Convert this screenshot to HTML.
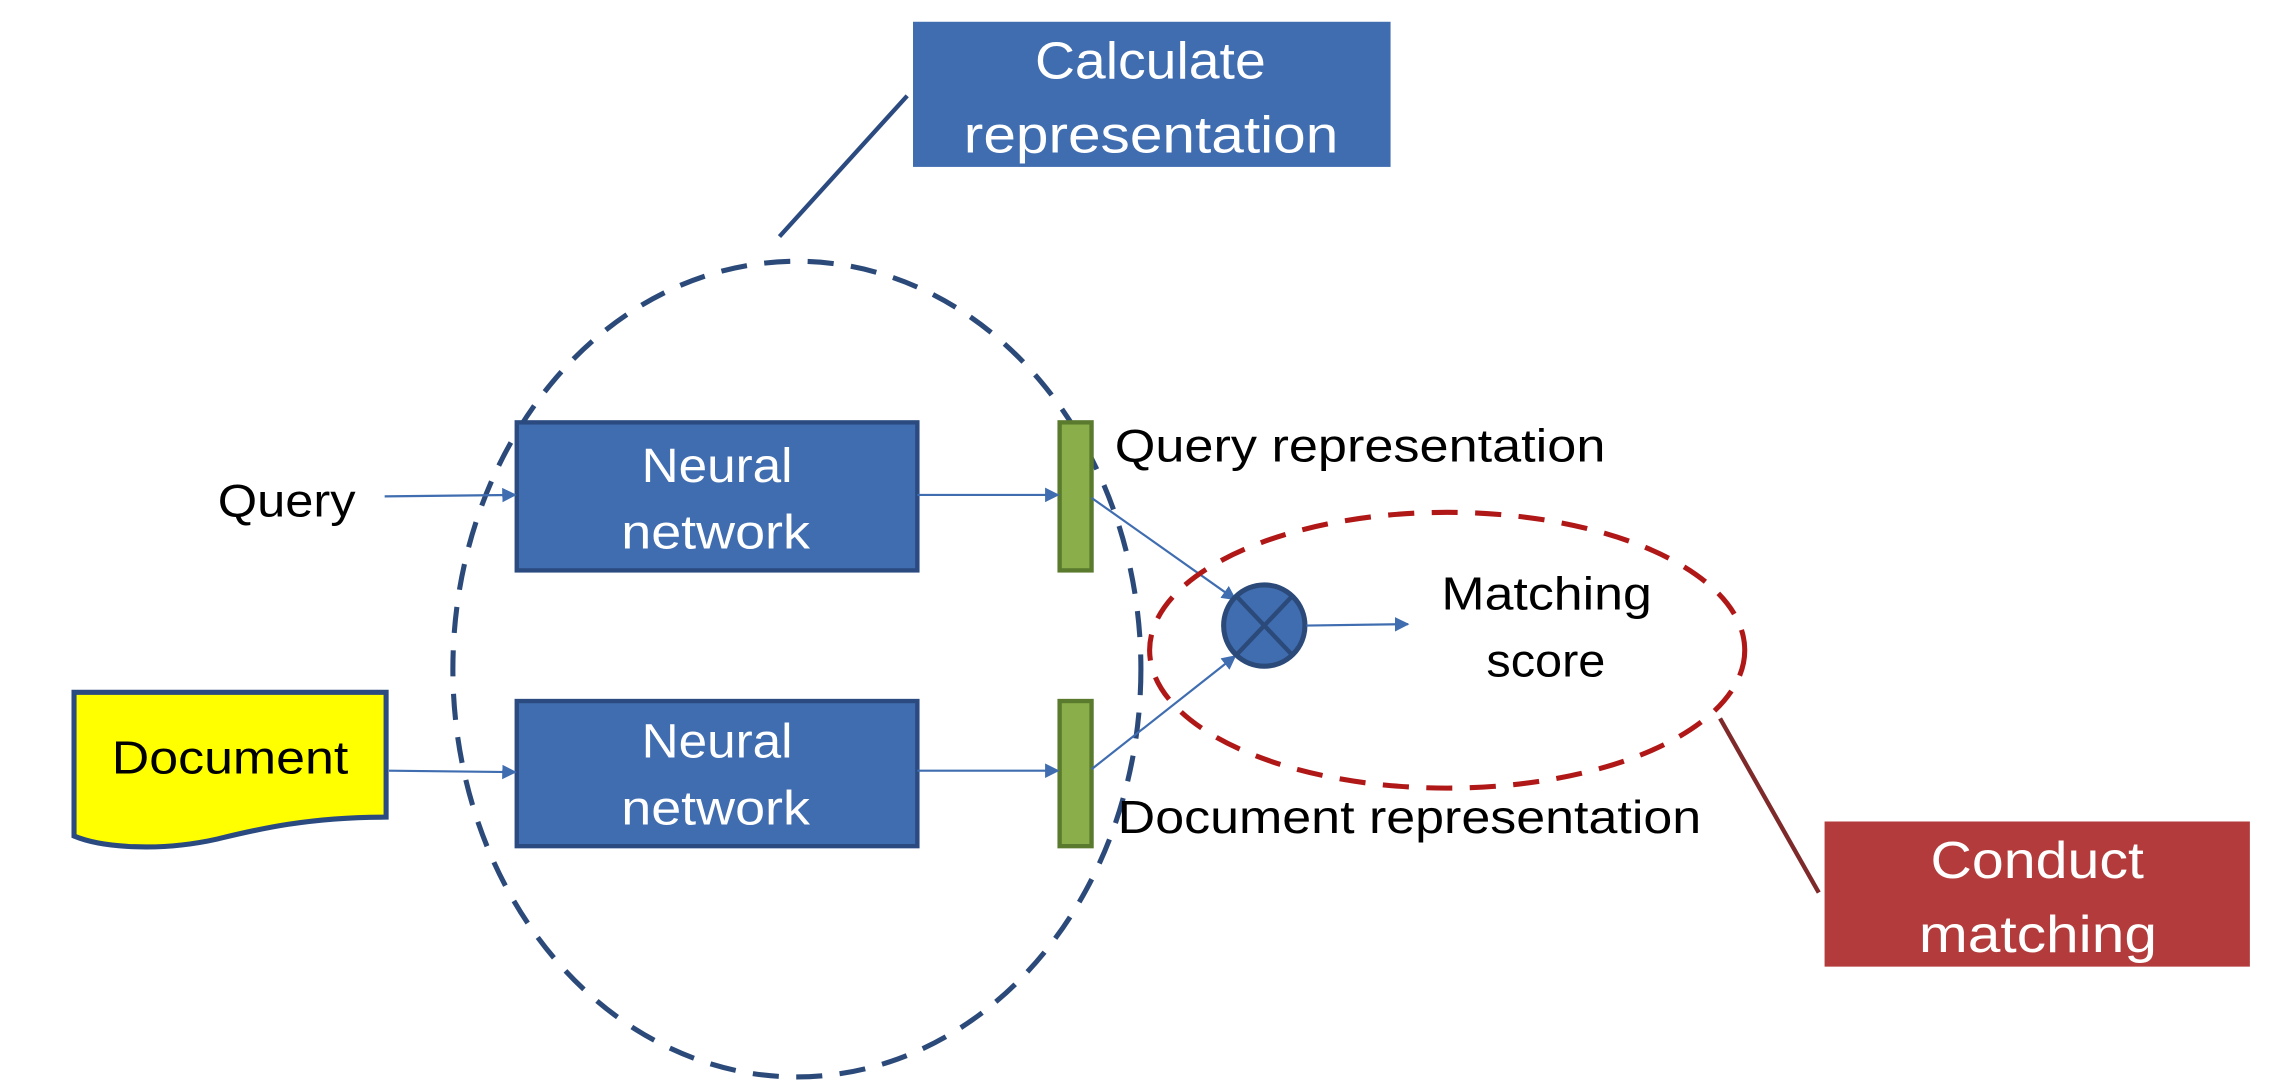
<!DOCTYPE html>
<html><head><meta charset="utf-8"><style>
html,body{margin:0;padding:0;background:#fff;}
svg{display:block;}
text{font-family:"Liberation Sans",sans-serif;}
</style></head><body>
<svg width="2276" height="1090" viewBox="0 0 1568 751" preserveAspectRatio="none" xmlns="http://www.w3.org/2000/svg">
<defs>
<marker id="a" markerWidth="10" markerHeight="10" refX="9" refY="5" orient="auto" markerUnits="userSpaceOnUse" viewBox="0 0 10 10">
<path d="M0,0 L10,5 L0,10 z" fill="#3f6db0"/></marker>
</defs>
<rect x="629" y="15" width="329" height="100" fill="#3f6db0"/>
<text x="713" y="54" font-size="36" fill="#fff" textLength="159" lengthAdjust="spacingAndGlyphs">Calculate</text>
<text x="664" y="105" font-size="36" fill="#fff" textLength="258" lengthAdjust="spacingAndGlyphs">representation</text>
<line x1="625" y1="66" x2="537" y2="163" stroke="#2b4a80" stroke-width="3"/>
<ellipse cx="549" cy="461" rx="237" ry="281" fill="none" stroke="#2b4a7a" stroke-width="3.5" stroke-dasharray="18,12"/>
<rect x="356" y="291" width="276" height="102" fill="#3f6db0" stroke="#2b4a80" stroke-width="3"/>
<text x="442" y="332" font-size="33" fill="#fff" textLength="104" lengthAdjust="spacingAndGlyphs">Neural</text>
<text x="428" y="378" font-size="33" fill="#fff" textLength="130" lengthAdjust="spacingAndGlyphs">network</text>
<rect x="356" y="483" width="276" height="100" fill="#3f6db0" stroke="#2b4a80" stroke-width="3"/>
<text x="442" y="522" font-size="33" fill="#fff" textLength="104" lengthAdjust="spacingAndGlyphs">Neural</text>
<text x="428" y="568" font-size="33" fill="#fff" textLength="130" lengthAdjust="spacingAndGlyphs">network</text>
<rect x="730" y="291" width="22" height="102" fill="#8aae4a" stroke="#5a7a2e" stroke-width="3"/>
<rect x="730" y="483" width="22" height="100" fill="#8aae4a" stroke="#5a7a2e" stroke-width="3"/>
<text x="150" y="356" font-size="32" fill="#000" textLength="95" lengthAdjust="spacingAndGlyphs">Query</text>
<line x1="265" y1="342" x2="355" y2="341" stroke="#3f6db0" stroke-width="1.5" marker-end="url(#a)"/>
<path d="M51,477 L266,477 L266,563 C210,563 175,572 150,578 C110,587 70,584 51,576 Z" fill="#ffff00" stroke="#2b4a80" stroke-width="3.5"/>
<text x="77" y="533" font-size="32" fill="#000" textLength="163" lengthAdjust="spacingAndGlyphs">Document</text>
<line x1="268" y1="531" x2="355" y2="532" stroke="#3f6db0" stroke-width="1.5" marker-end="url(#a)"/>
<line x1="632" y1="341" x2="729" y2="341" stroke="#3f6db0" stroke-width="1.5" marker-end="url(#a)"/>
<line x1="632" y1="531" x2="729" y2="531" stroke="#3f6db0" stroke-width="1.5" marker-end="url(#a)"/>
<line x1="752" y1="343" x2="851" y2="413" stroke="#3f6db0" stroke-width="1.5" marker-end="url(#a)"/>
<line x1="752" y1="530" x2="851" y2="452" stroke="#3f6db0" stroke-width="1.5" marker-end="url(#a)"/>
<ellipse cx="871" cy="431" rx="28" ry="28" fill="#3f6db0" stroke="#2b4a7a" stroke-width="3.5"/>
<line x1="852" y1="411" x2="890" y2="451" stroke="#2b4a7a" stroke-width="3"/>
<line x1="890" y1="411" x2="852" y2="451" stroke="#2b4a7a" stroke-width="3"/>
<line x1="900" y1="431" x2="970" y2="430" stroke="#3f6db0" stroke-width="1.5" marker-end="url(#a)"/>
<text x="768" y="318" font-size="32" fill="#000" textLength="338" lengthAdjust="spacingAndGlyphs">Query representation</text>
<text x="770" y="574" font-size="32" fill="#000" textLength="402" lengthAdjust="spacingAndGlyphs">Document representation</text>
<text x="993" y="420" font-size="32" fill="#000" textLength="145" lengthAdjust="spacingAndGlyphs">Matching</text>
<text x="1024" y="466" font-size="32" fill="#000" textLength="82" lengthAdjust="spacingAndGlyphs">score</text>
<ellipse cx="997" cy="448" rx="205" ry="95" fill="none" stroke="#b01818" stroke-width="3.5" stroke-dasharray="18,12"/>
<line x1="1185" y1="495" x2="1253" y2="615" stroke="#7f2a2a" stroke-width="3"/>
<rect x="1257" y="566" width="293" height="100" fill="#b33b3b"/>
<text x="1330" y="605" font-size="36" fill="#fff" textLength="147" lengthAdjust="spacingAndGlyphs">Conduct</text>
<text x="1322" y="656" font-size="36" fill="#fff" textLength="164" lengthAdjust="spacingAndGlyphs">matching</text>
</svg>
</body></html>
